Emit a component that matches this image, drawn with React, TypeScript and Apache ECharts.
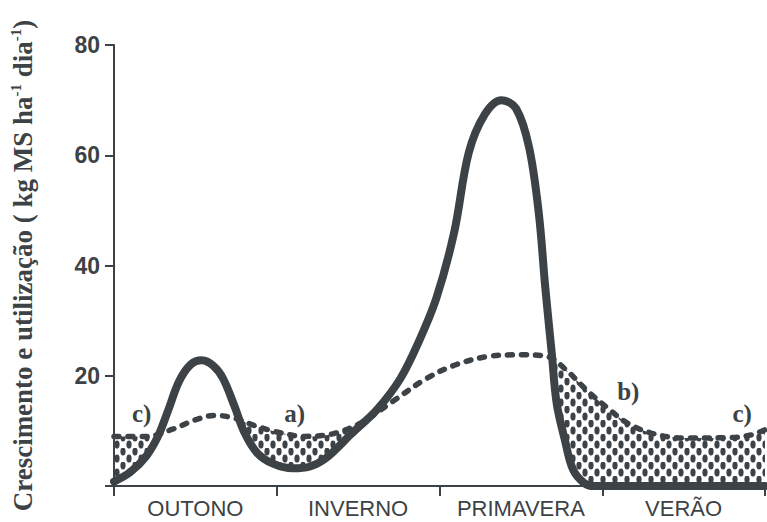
import React, { useEffect, useRef } from "react";
import * as echarts from "echarts";

// Seasons (category axis)
const seasons = ["OUTONO", "INVERNO", "PRIMAVERA", "VERÃO"];

// Growth curve (solid) : [season position, kg MS/ha/dia]
const growth: [number, number][] = [
  [0, 0.8], [0.1, 2.5], [0.2, 5.5], [0.27, 9], [0.33, 13.5], [0.4, 19],
  [0.47, 22], [0.54, 22.8], [0.61, 21.8], [0.67, 19.5], [0.74, 14.5],
  [0.8, 9.8], [0.88, 6], [0.98, 4], [1.1, 3.2], [1.2, 3.5], [1.3, 5],
  [1.46, 9.5], [1.62, 14], [1.76, 19.5], [1.87, 26], [1.98, 34],
  [2.09, 46], [2.18, 60.5], [2.28, 67.5], [2.38, 70], [2.47, 68.5],
  [2.55, 61.5], [2.61, 49.5], [2.65, 36], [2.69, 24], [2.72, 15],
  [2.77, 8.4], [2.82, 3], [2.89, 0.5], [2.95, 0], [3.4, 0], [4, 0],
];

// Utilization curve (dashed)
const utilization: [number, number][] = [
  [0, 9], [0.2, 9], [0.36, 10.3], [0.5, 12], [0.62, 12.8], [0.74, 12.3],
  [0.86, 11], [1.0, 9.8], [1.17, 9], [1.35, 9.5], [1.52, 11.5],
  [1.72, 15.5], [1.92, 19.5], [2.1, 22], [2.3, 23.5], [2.5, 23.8],
  [2.66, 23.5], [2.78, 21], [2.9, 17.5], [3.03, 14.2], [3.15, 11.5],
  [3.3, 9.6], [3.5, 8.7], [3.8, 8.8], [3.92, 9.3], [4.0, 10.2],
];

// Annotation labels
const notes: [number, number, string][] = [
  [0.17, 13.1, "c)"],
  [1.11, 13.2, "a)"],
  [3.16, 17.1, "b)"],
  [3.86, 13.1, "c)"],
];

const INK = "#3c4245";
const BG = "#ffffff";

function makePattern(): HTMLCanvasElement {
  const c = document.createElement("canvas");
  c.width = 12;
  c.height = 14;
  const ctx = c.getContext("2d")!;
  ctx.fillStyle = INK;
  const blob = (cx: number, cy: number, rx: number, ry: number) => {
    ctx.beginPath();
    ctx.ellipse(cx, cy, rx, ry, 0, 0, Math.PI * 2);
    ctx.fill();
  };
  blob(3, 3.5, 2.6, 4);
  blob(9, 10.5, 2.6, 4);
  blob(9, -3.5, 2.6, 4);
  return c;
}

export default function App() {
  const ref = useRef<HTMLDivElement>(null);
  useEffect(() => {
    if (!ref.current) return;
    const chart = echarts.init(ref.current, null, { renderer: "svg" });
    const pat = makePattern();
    chart.setOption({
      animation: false,
      backgroundColor: BG,
      grid: { left: 109, right: 2, top: 45, bottom: 36 },
      xAxis: [
        {
          type: "category",
          data: seasons,
          boundaryGap: true,
          z: 5,
          axisLine: { lineStyle: { color: INK, width: 2 } },
          axisTick: { show: true, length: 10, lineStyle: { color: INK, width: 2 } },
          axisLabel: {
            interval: 0,
            hideOverlap: false,
            color: INK,
            fontFamily: "Liberation Sans, Arial, sans-serif",
            fontSize: 22,
            margin: 11,
          },
        },
        { type: "value", min: 0, max: 4, show: false },
      ],
      yAxis: {
        type: "value",
        min: 0,
        max: 80,
        interval: 20,
        z: 5,
        axisLine: { show: true, lineStyle: { color: INK, width: 2 } },
        axisTick: { show: true, length: 9, lineStyle: { color: INK, width: 2 } },
        splitLine: { show: false },
        axisLabel: {
          color: INK,
          fontFamily: "Liberation Sans, Arial, sans-serif",
          fontWeight: "bold",
          fontSize: 23,
          margin: 14,
          formatter: (v: number) => (v === 0 ? "" : String(v)),
        },
        name: "Crescimento e utilização ( kg MS ha{s|-1} dia{s|-1})",
        nameLocation: "middle",
        nameRotate: 90,
        nameGap: 76,
        nameTextStyle: {
          color: INK,
          fontFamily: "Liberation Serif, Times New Roman, serif",
          fontWeight: "bold",
          fontSize: 27,
          lineHeight: 30,
          rich: {
            s: {
              fontFamily: "Liberation Serif, Times New Roman, serif",
              fontWeight: "bold",
              fontSize: 15,
              color: INK,
              verticalAlign: "top",
              lineHeight: 30,
            },
          },
        },
      },
      series: [
        {
          type: "line",
          xAxisIndex: 1,
          data: utilization,
          smooth: 0.35,
          symbol: "none",
          silent: true,
          lineStyle: { width: 0, opacity: 0 },
          areaStyle: {
            color: { image: pat, repeat: "repeat", imageWidth: 12, imageHeight: 14 } as any,
            opacity: 1,
          },
        },
        {
          type: "line",
          xAxisIndex: 1,
          data: growth,
          smooth: 0.35,
          symbol: "none",
          silent: true,
          lineStyle: { width: 0, opacity: 0 },
          areaStyle: { color: BG, opacity: 1 },
        },
        {
          type: "line",
          xAxisIndex: 1,
          data: utilization,
          smooth: 0.35,
          symbol: "none",
          lineStyle: { color: INK, width: 5.5, type: [5, 9], cap: "round" },
        },
        {
          type: "line",
          xAxisIndex: 1,
          data: growth,
          smooth: 0.35,
          symbol: "none",
          lineStyle: { color: INK, width: 8, cap: "round", join: "round" },
        },
        {
          type: "scatter",
          xAxisIndex: 1,
          data: notes.map((n) => [n[0], n[1], n[2]]),
          symbolSize: 1,
          itemStyle: { opacity: 0 },
          z: 10,
          label: {
            show: true,
            position: "inside",
            formatter: (p: any) => p.data[2],
            color: INK,
            opacity: 1,
            textBorderWidth: 0,
            fontFamily: "Liberation Serif, Times New Roman, serif",
            fontWeight: "bold",
            fontSize: 25,
          },
        },
      ],
    });
    return () => chart.dispose();
  }, []);
  return (
    <div
      ref={ref}
      style={{ position: "fixed", left: 0, top: 0, width: 767, height: 522 }}
    />
  );
}
